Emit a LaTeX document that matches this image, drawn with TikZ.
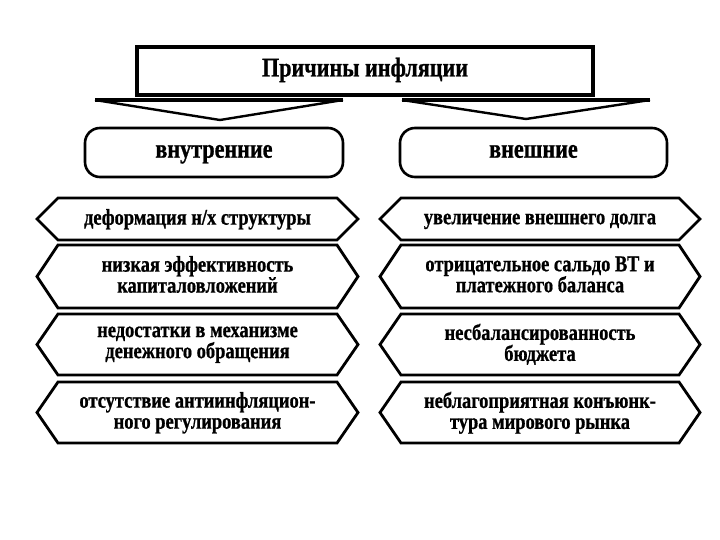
\documentclass[tikz,border=0pt]{standalone}
\usepackage{fontspec}
\setmainfont{Liberation Serif}[FakeStretch=0.82, BoldFeatures={FakeBold=0.8}]
\newcommand\hexrow[6]{%
  \draw[hexbox] ({#2+21},#4) -- ({#3-21},#4) -- (#3,{(#4+#5)/2}) -- ({#3-21},#5)
     -- ({#2+21},#5) -- (#2,{(#4+#5)/2}) -- cycle;
  \node[txt] (#1) at ({(#2+#3)/2},{(#4+#5)/2+1}) {#6};}
\begin{document}
\begin{tikzpicture}[x=1pt,y=-1pt,
  txt/.style={font=\bfseries\fontsize{22.5}{21}\selectfont, align=center, inner sep=0pt,
     execute at begin node=\strut, execute at end node=\strut},
  hexbox/.style={draw=black, line width=2.8pt, line join=miter, fill=white},
  roundbox/.style={draw=black, line width=2.6pt, rounded corners=15pt,
     minimum height=49pt, inner sep=0pt, font=\bfseries\fontsize{27}{26}\selectfont,
     execute at begin node=\strut},
  vbar/.style={line width=2.4pt, line join=miter},
  topbar/.style={line width=4pt}]
\useasboundingbox[fill=white] (0,0) rectangle (720,540);
% title
\node[draw=black, line width=3.6pt, minimum width=456pt, minimum height=48pt, inner sep=0pt,
  font=\bfseries\fontsize{27}{26}\selectfont, execute at begin node=\strut] (title) at (365,71) {Причины инфляции};
% arrows
\coordinate (la1) at (95,100); \coordinate (la2) at (343,100); \coordinate (lap) at (220,120);
\coordinate (ra1) at (402,100); \coordinate (ra2) at (650,100); \coordinate (rap) at (526,119);
\draw[vbar] (la1) -- (lap) -- (la2);
\draw[topbar] (la1) -- (la2);
\draw[vbar] (ra1) -- (rap) -- (ra2);
\draw[topbar] (ra1) -- (ra2);
% categories
\node[roundbox, minimum width=258pt] (inner) at (214,152.5) {внутренние};
\node[roundbox, minimum width=267pt] (outer) at (533.5,152.5) {внешние};
% left column
\hexrow{l1}{37}{358}{198}{240}{деформация н/х структуры}
\hexrow{l2}{37}{358}{245}{308}{низкая эффективность\\капиталовложений}
\hexrow{l3}{37}{358}{314}{375}{недостатки в механизме\\денежного обращения}
\hexrow{l4}{37}{358}{382}{443}{отсутствие антиинфляцион-\\ного регулирования}
% right column
\hexrow{r1}{380}{700}{198}{240}{увеличение внешнего долга}
\hexrow{r2}{380}{700}{245}{308}{отрицательное сальдо ВТ и\\платежного баланса}
\hexrow{r3}{380}{700}{314}{375}{несбалансированность\\бюджета}
\hexrow{r4}{380}{700}{382}{443}{неблагоприятная конъюнк-\\тура мирового рынка}
\end{tikzpicture}
\end{document}
